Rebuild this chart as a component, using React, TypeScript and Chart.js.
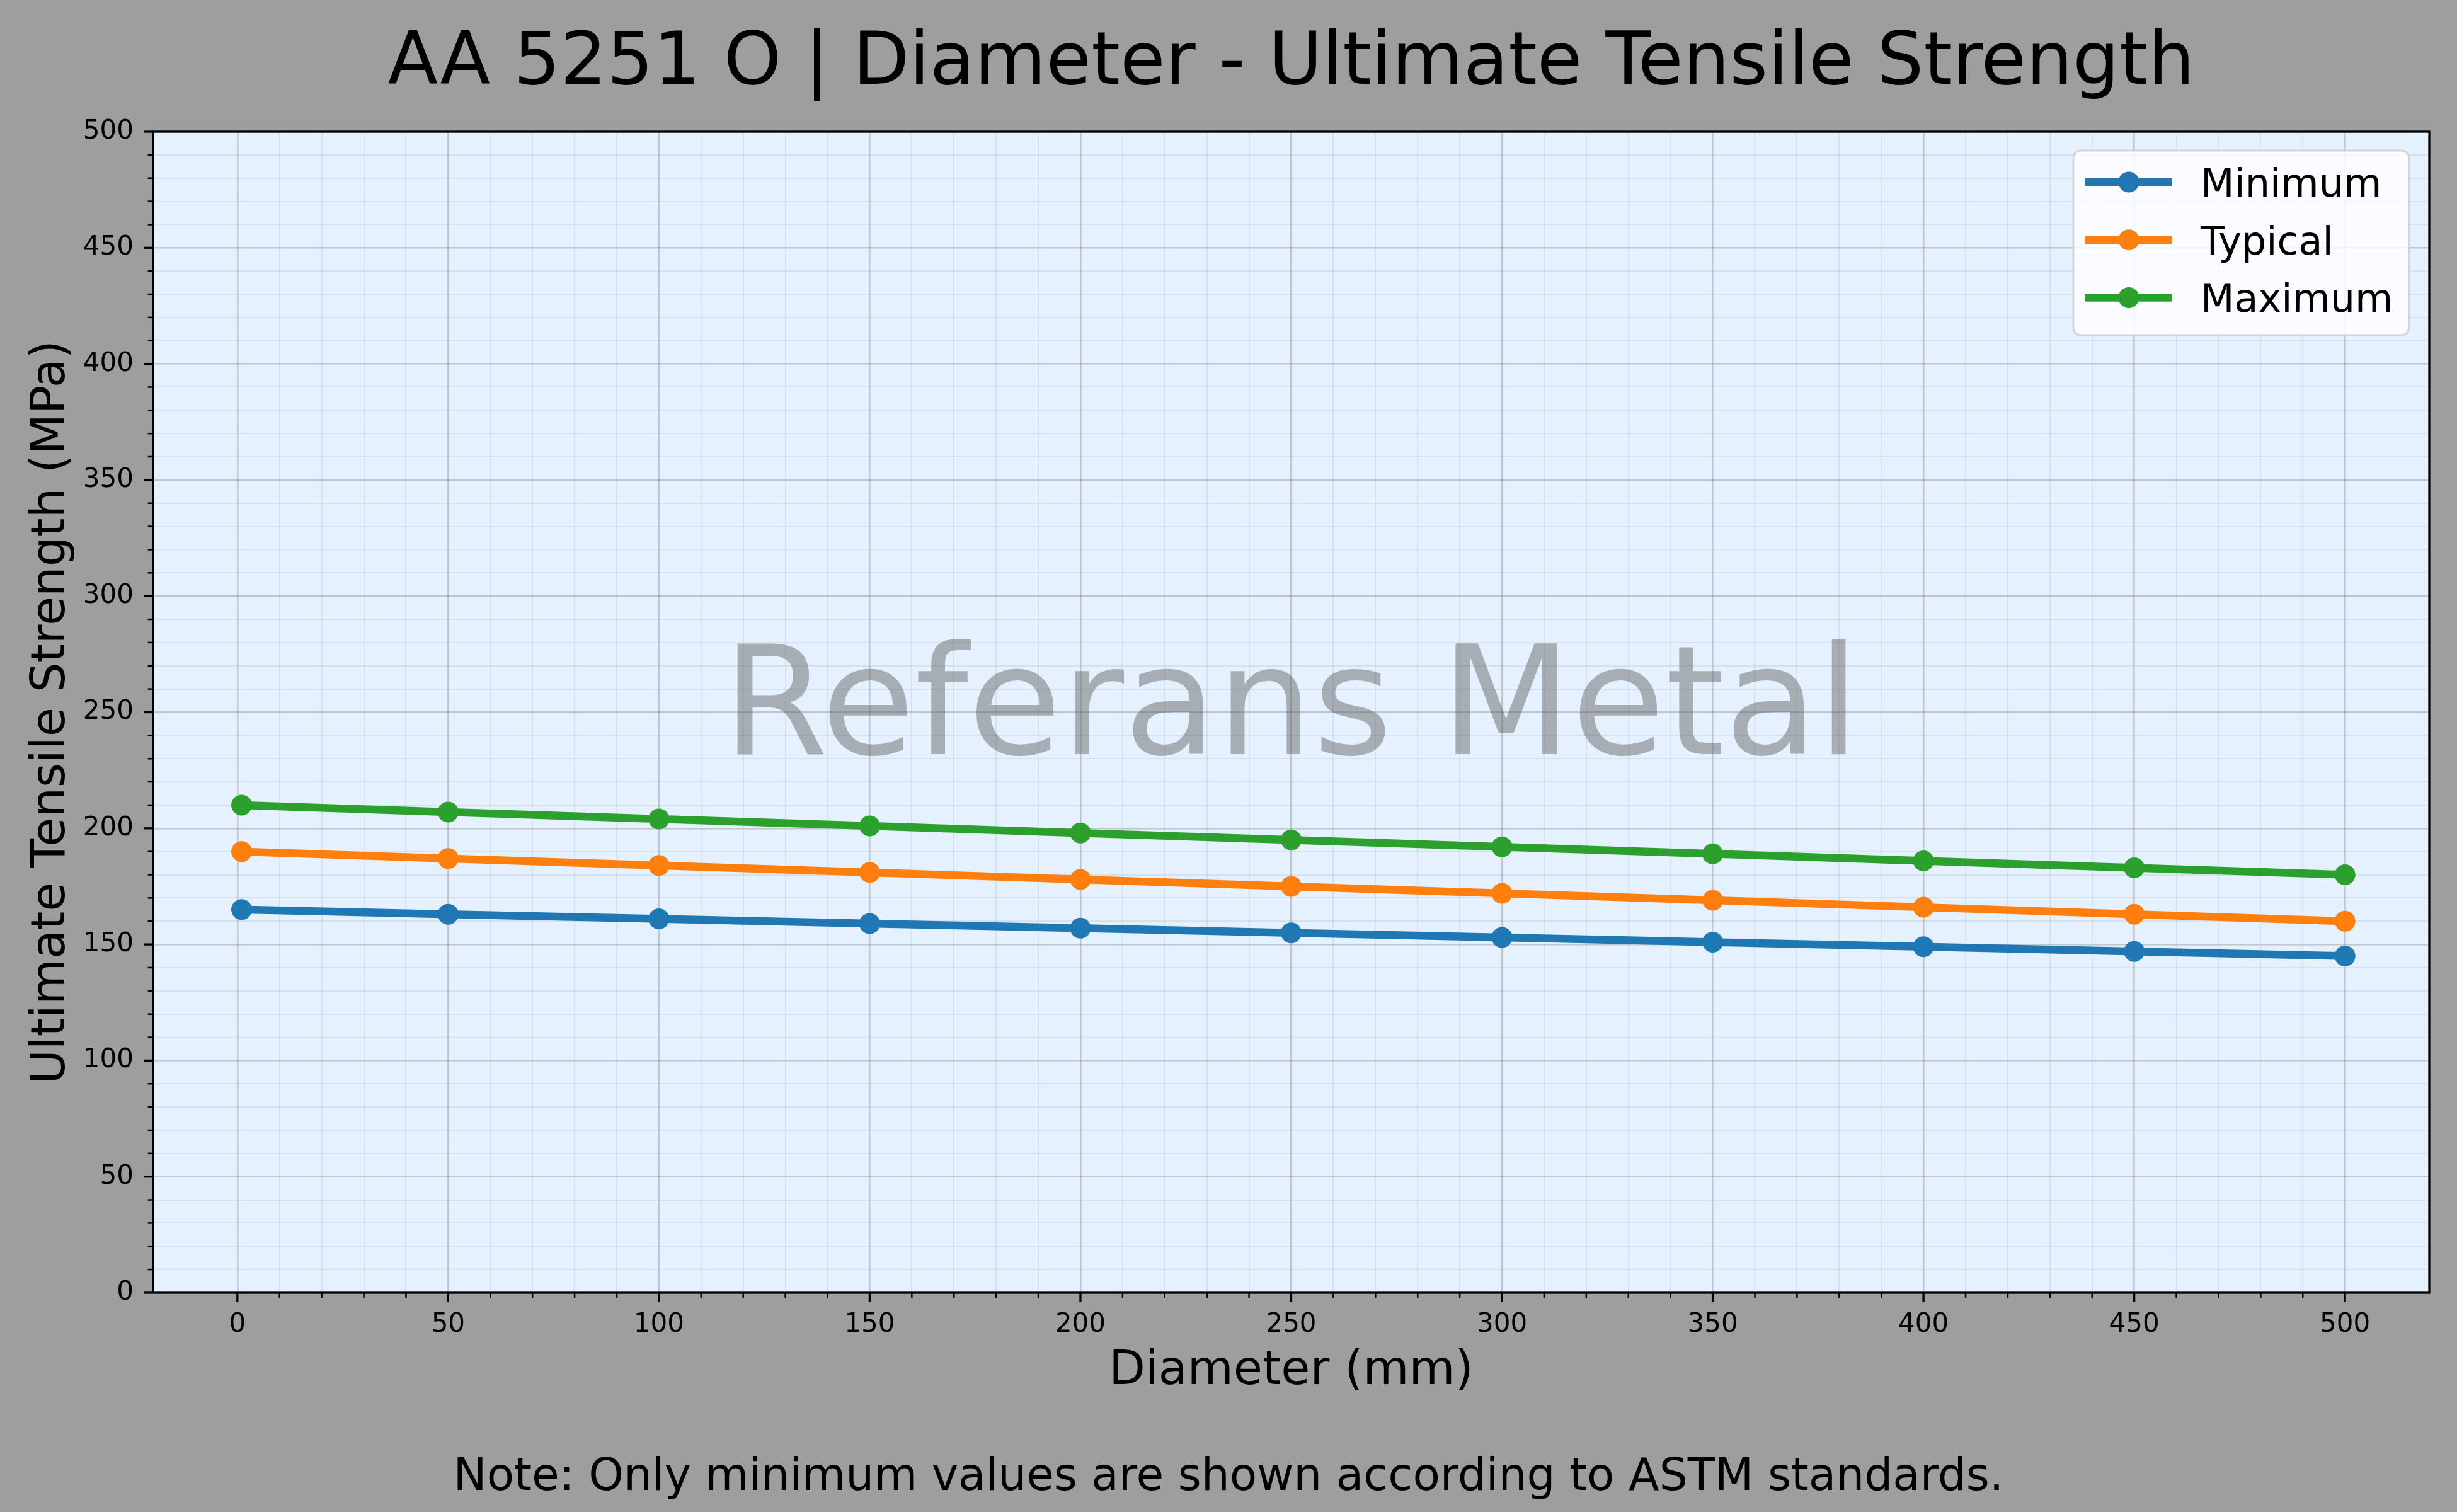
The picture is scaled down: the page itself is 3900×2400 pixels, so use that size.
import React, { useEffect, useRef } from 'react';
import { Chart, registerables } from 'chart.js';

Chart.register(...registerables);

const diameters = [1, 50, 100, 150, 200, 250, 300, 350, 400, 450, 500];
const minimumValues = [165, 163, 161, 159, 157, 155, 153, 151, 149, 147, 145];
const typicalValues = [190, 187, 184, 181, 178, 175, 172, 169, 166, 163, 160];
const maximumValues = [210, 207, 204, 201, 198, 195, 192, 189, 186, 183, 180];
const seriesLabels = ['Minimum', 'Typical', 'Maximum'];
const seriesColors = ['#1f77b4', '#ff7f0e', '#2ca02c'];
const xTickValues = [0, 50, 100, 150, 200, 250, 300, 350, 400, 450, 500];
const yTickValues = [0, 50, 100, 150, 200, 250, 300, 350, 400, 450, 500];
const titleText = 'AA 5251 O | Diameter - Ultimate Tensile Strength';
const xLabelText = 'Diameter (mm)';
const yLabelText = 'Ultimate Tensile Strength (MPa)';
const noteText = 'Note: Only minimum values are shown according to ASTM standards.';
const watermarkText = 'Referans Metal';

const W = 3900;
const H = 2400;
const FONT = '"DejaVu Sans", "Liberation Sans", sans-serif';

function minorSteps(lo: number, hi: number, step: number) {
  const out: { value: number }[] = [];
  for (let v = lo; v <= hi + 1e-9; v += step) out.push({ value: v });
  return out;
}

const decorPlugin = {
  id: 'decor',
  beforeDraw(chart: any) {
    const { ctx, chartArea: a } = chart;
    ctx.save();
    ctx.fillStyle = '#9e9e9e';
    ctx.fillRect(0, 0, W, H);
    ctx.fillStyle = '#e5f1fe';
    ctx.fillRect(a.left, a.top, a.right - a.left, a.bottom - a.top);
    ctx.restore();
  },
  beforeDatasetsDraw(chart: any) {
    const { ctx, chartArea: a } = chart;
    ctx.save();
    ctx.font = `241px ${FONT}`;
    ctx.fillStyle = 'rgba(90,90,90,0.45)';
    ctx.textAlign = 'center';
    ctx.textBaseline = 'alphabetic';
    ctx.fillText(watermarkText, (a.left + a.right) / 2, 1197);
    ctx.restore();
  },
  afterDraw(chart: any) {
    const { ctx, chartArea: a, scales } = chart;
    const xs = scales.x;
    const ys = scales.y;
    ctx.save();
    // tick marks
    ctx.strokeStyle = '#000';
    xs.ticks.forEach((t: any) => {
      const major = xTickValues.includes(t.value);
      const px = xs.getPixelForValue(t.value);
      ctx.lineWidth = major ? 3.3 : 2.5;
      ctx.beginPath();
      ctx.moveTo(px, a.bottom);
      ctx.lineTo(px, a.bottom + (major ? 14.6 : 8.3));
      ctx.stroke();
    });
    ys.ticks.forEach((t: any) => {
      const major = yTickValues.includes(t.value);
      const py = ys.getPixelForValue(t.value);
      ctx.lineWidth = major ? 3.3 : 2.5;
      ctx.beginPath();
      ctx.moveTo(a.left, py);
      ctx.lineTo(a.left - (major ? 14.6 : 8.3), py);
      ctx.stroke();
    });
    // spines
    ctx.lineWidth = 3.3;
    ctx.strokeRect(a.left, a.top, a.right - a.left, a.bottom - a.top);

    // title
    ctx.fillStyle = '#000';
    ctx.textAlign = 'center';
    ctx.textBaseline = 'alphabetic';
    ctx.font = `116.5px ${FONT}`;
    ctx.fillText(titleText, (a.left + a.right) / 2, 133);
    // x label
    ctx.font = `75px ${FONT}`;
    ctx.fillText(xLabelText, (a.left + a.right) / 2, 2197);
    // note
    ctx.font = `71px ${FONT}`;
    ctx.fillText(noteText, W / 2, 2365);
    // y label
    ctx.save();
    ctx.translate(102, (a.top + a.bottom) / 2);
    ctx.rotate(-Math.PI / 2);
    ctx.font = `75px ${FONT}`;
    ctx.fillText(yLabelText, 0, 0);
    ctx.restore();

    // legend
    const lx = 3291, ly = 239, lw = 533, lh = 293, r = 14;
    ctx.beginPath();
    ctx.moveTo(lx + r, ly);
    ctx.lineTo(lx + lw - r, ly);
    ctx.quadraticCurveTo(lx + lw, ly, lx + lw, ly + r);
    ctx.lineTo(lx + lw, ly + lh - r);
    ctx.quadraticCurveTo(lx + lw, ly + lh, lx + lw - r, ly + lh);
    ctx.lineTo(lx + r, ly + lh);
    ctx.quadraticCurveTo(lx, ly + lh, lx, ly + lh - r);
    ctx.lineTo(lx, ly + r);
    ctx.quadraticCurveTo(lx, ly, lx + r, ly);
    ctx.closePath();
    ctx.fillStyle = 'rgba(255,255,255,0.8)';
    ctx.fill();
    ctx.lineWidth = 3;
    ctx.strokeStyle = 'rgba(204,204,204,0.8)';
    ctx.stroke();

    chart.data.datasets.forEach((ds: any, i: number) => {
      const rowY = 289 + i * 91.7;
      ctx.strokeStyle = ds.borderColor;
      ctx.lineWidth = 12.5;
      ctx.lineCap = 'butt';
      ctx.beginPath();
      ctx.moveTo(3310, rowY);
      ctx.lineTo(3448, rowY);
      ctx.stroke();
      ctx.fillStyle = ds.borderColor;
      ctx.beginPath();
      ctx.arc(3379, rowY, 16.5, 0, Math.PI * 2);
      ctx.fill();
      ctx.fillStyle = '#000';
      ctx.textAlign = 'left';
      ctx.font = `62px ${FONT}`;
      ctx.fillText(ds.label, 3493, rowY + 23);
    });
    ctx.restore();
  },
};

export default function App() {
  const ref = useRef<HTMLCanvasElement | null>(null);
  useEffect(() => {
    document.body.style.margin = '0';
    const canvas = ref.current;
    if (!canvas) return;
    const seriesValues = [minimumValues, typicalValues, maximumValues];
    const gridColor = (ctx: any, majors: number[]) =>
      majors.includes(ctx.tick?.value) ? 'rgba(128,128,128,0.38)' : 'rgba(128,128,128,0.14)';
    const chart = new Chart(canvas, {
      type: 'line',
      data: {
        datasets: seriesValues.map((vals, i) => ({
          label: seriesLabels[i],
          data: vals.map((v, j) => ({ x: diameters[j], y: v })),
          borderColor: seriesColors[i],
          backgroundColor: seriesColors[i],
          pointBackgroundColor: seriesColors[i],
          pointBorderWidth: 0,
          pointRadius: 16.5,
          borderWidth: 12.5,
          tension: 0,
          fill: false,
        })),
      },
      options: {
        animation: false,
        responsive: false,
        devicePixelRatio: 1,
        layout: { padding: { top: 209, right: 44, left: 0, bottom: 0 } },
        plugins: { legend: { display: false }, title: { display: false }, tooltip: { enabled: false } },
        scales: {
          x: {
            type: 'linear',
            min: -20,
            max: 520,
            afterBuildTicks: (s: any) => { s.ticks = minorSteps(0, 500, 10); },
            afterFit: (s: any) => { s.height = 348; },
            ticks: {
              autoSkip: false,
              maxRotation: 0,
              padding: 26,
              color: '#000',
              font: { family: FONT, size: 42 },
              callback: (v: any) => (xTickValues.includes(Number(v)) ? String(v) : ''),
            },
            grid: {
              drawTicks: false,
              color: (c: any) => gridColor(c, xTickValues),
              lineWidth: (c: any) => (xTickValues.includes(c.tick?.value) ? 2.6 : 2),
            },
            border: { display: false },
          },
          y: {
            type: 'linear',
            min: 0,
            max: 500,
            afterBuildTicks: (s: any) => { s.ticks = minorSteps(0, 500, 10); },
            afterFit: (s: any) => { s.width = 243; },
            ticks: {
              autoSkip: false,
              padding: 31,
              color: '#000',
              font: { family: FONT, size: 42 },
              callback: (v: any) => (yTickValues.includes(Number(v)) ? String(v) : ''),
            },
            grid: {
              drawTicks: false,
              color: (c: any) => gridColor(c, yTickValues),
              lineWidth: (c: any) => (yTickValues.includes(c.tick?.value) ? 2.6 : 2),
            },
            border: { display: false },
          },
        },
      },
      plugins: [decorPlugin],
    } as any);
    return () => chart.destroy();
  }, []);
  return (
    <div style={{ position: 'absolute', left: 0, top: 0, width: W, height: H }}>
      <canvas ref={ref} width={W} height={H} style={{ width: W, height: H, display: 'block' }} />
    </div>
  );
}
